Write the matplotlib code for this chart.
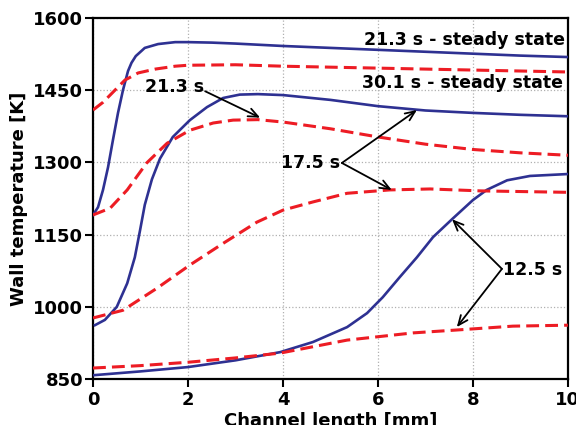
import matplotlib
matplotlib.use('Agg')
import matplotlib.pyplot as plt

plt.rcParams['font.family'] = 'DejaVu Sans'
plt.rcParams['font.weight'] = 'bold'

# channel length [mm] / wall temperature [K]
# 21.3 s - steady state
x_a = [0, 0.105, 0.21, 0.316, 0.42, 0.526, 0.63, 0.737, 0.81, 0.9, 1.09, 1.37, 1.73,
       2, 2.5, 3, 4, 5, 6, 7, 8, 9, 10]
t_a_solid = [1191, 1207, 1243, 1290, 1347, 1403, 1450, 1490, 1507, 1521, 1538, 1546, 1550,
             1550, 1549, 1547, 1542, 1538, 1534, 1530, 1526, 1522, 1519]
x_a2 = [0, 0.21, 0.46, 0.67, 0.95, 1.31, 1.73, 2, 3, 4, 6, 8, 10]
t_a_dash = [1409, 1425, 1450, 1471, 1486, 1494, 1500, 1502, 1503, 1500, 1496, 1492, 1488]

# 30.1 s - steady state (solid) / 21.3 s (dashed)
x_b = [0.04, 0.25, 0.5, 0.72, 0.88, 0.99, 1.09, 1.24, 1.41, 1.68, 2.04, 2.4, 2.74,
       3.09, 3.47, 4, 5, 6, 7, 8, 9, 10]
t_b_solid = [962, 973, 1000, 1049, 1103, 1159, 1212, 1265, 1308, 1353, 1388, 1415, 1434,
             1441, 1442, 1440, 1430, 1417, 1408, 1403, 1399, 1396]
x_b2 = [0, 0.36, 0.72, 1.13, 1.56, 2.04, 2.53, 2.95, 3.47, 4, 5, 6, 7, 8, 9, 10]
t_b_dash = [1191, 1205, 1243, 1299, 1340, 1367, 1382, 1388, 1389, 1384, 1370, 1353,
            1338, 1327, 1320, 1315]

# 17.5 s (dashed)
x_c = [0, 0.63, 1.35, 2.04, 2.74, 3.45, 4.0, 4.63, 5.35, 6.25, 7.1, 8.15, 10]
t_c_dash = [977, 993, 1039, 1087, 1132, 1176, 1201, 1218, 1236, 1243, 1245, 1241, 1238]

# 12.5 s
x_d = [0, 1, 2, 3, 3.94, 4.63, 5.35, 5.77, 6.1, 6.46, 6.82, 7.16, 7.58, 8.0, 8.29,
       8.72, 9.2, 10]
t_d_solid = [858, 866, 875, 889, 906, 927, 958, 987, 1020, 1062, 1103, 1145, 1184, 1222,
             1243, 1263, 1272, 1276]
x_d2 = [0, 1, 2, 3, 3.94, 5.35, 6.74, 7.66, 8.84, 10]
t_d_dash = [873, 878, 885, 894, 904, 931, 946, 952, 960, 962]

blue = '#2E3192'
red = '#ED1C24'

fig = plt.figure(figsize=(5.76, 4.25), dpi=100)
ax = fig.add_axes([0.1615, 0.108, 0.8245, 0.8495])

for xs, ys in [(x_a, t_a_solid), (x_b, t_b_solid), (x_d, t_d_solid)]:
    ax.plot(xs, ys, color=blue, lw=1.9, zorder=3, solid_joinstyle='round')
for xs, ys in [(x_a2, t_a_dash), (x_b2, t_b_dash), (x_c, t_c_dash), (x_d2, t_d_dash)]:
    ax.plot(xs, ys, color=red, lw=2.2, dashes=(4.2, 2.0), zorder=3)

ax.set_xlim(0, 10)
ax.set_ylim(850, 1600)
ax.set_xticks([0, 2, 4, 6, 8, 10])
ax.set_yticks([850, 1000, 1150, 1300, 1450, 1600])
ax.grid(True, linestyle=':', color='#b0b0b0', lw=0.9)
ax.tick_params(direction='out', length=5.5, width=1.5, labelsize=13)
ax.tick_params(axis='x', pad=3)
ax.tick_params(axis='y', pad=1.5)
for lab in ax.get_xticklabels() + ax.get_yticklabels():
    lab.set_fontweight('bold')
for s in ax.spines.values():
    s.set_linewidth(1.6)

ax.set_xlabel('Channel length [mm]', fontsize=13, fontweight='bold', labelpad=2)
ax.set_ylabel('Wall temperature [K]', fontsize=13, fontweight='bold', labelpad=4)

fs = 12.5
ax.text(9.94, 1554, '21.3 s - steady state', ha='right', va='center', fontsize=fs, fontweight='bold')
ax.text(9.89, 1465, '30.1 s - steady state', ha='right', va='center', fontsize=fs, fontweight='bold')
ax.text(1.09, 1457, '21.3 s', ha='left', va='center', fontsize=fs, fontweight='bold')
ax.text(5.2, 1299, '17.5 s', ha='right', va='center', fontsize=fs, fontweight='bold')
ax.text(8.63, 1076, '12.5 s', ha='left', va='center', fontsize=fs, fontweight='bold')

arrows = [((2.36, 1448), (3.52, 1393)),
          ((5.24, 1299), (6.82, 1409)),
          ((5.24, 1299), (6.29, 1243)),
          ((8.61, 1079), (7.56, 1182)),
          ((8.61, 1079), (7.66, 958))]
for tail, head in arrows:
    ax.annotate('', xy=head, xytext=tail,
                arrowprops=dict(arrowstyle='->,head_length=0.7,head_width=0.3',
                                lw=1.3, color='k', shrinkA=0, shrinkB=0))

fig.savefig('out.png', dpi=100)
